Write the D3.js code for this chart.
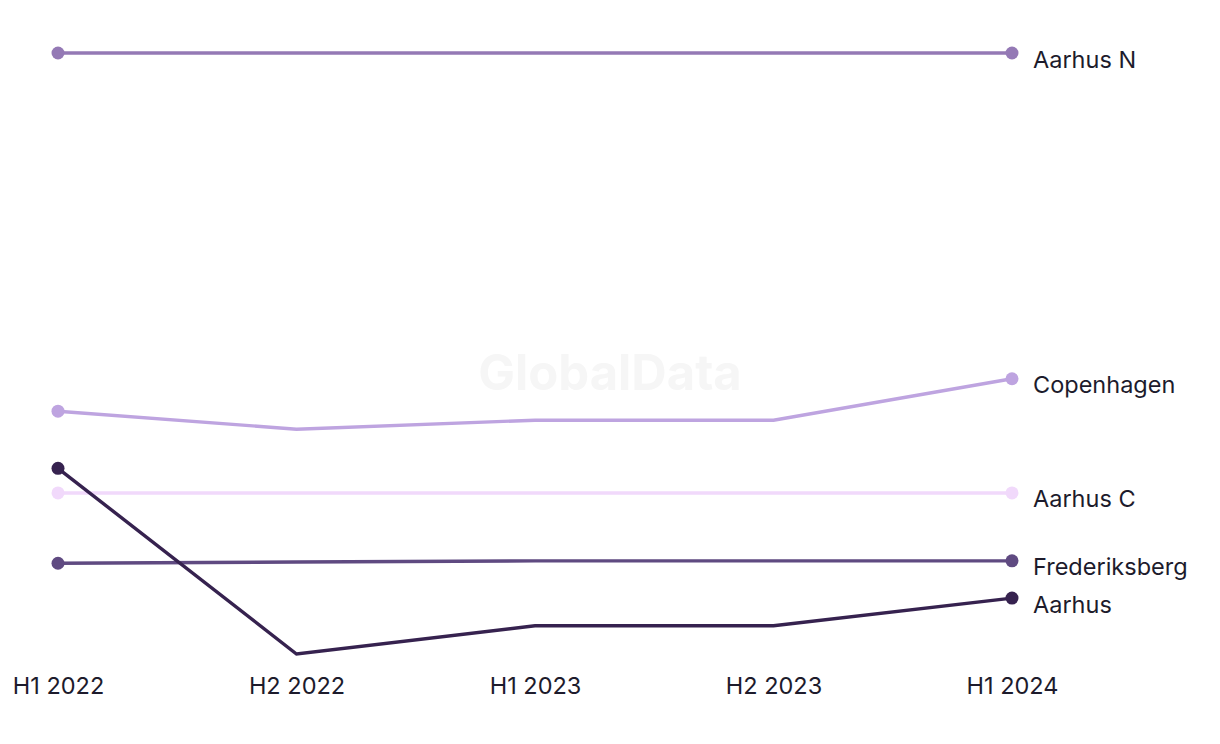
<!DOCTYPE html>
<html>
<head>
<meta charset="utf-8">
<script src="https://cdn.jsdelivr.net/npm/d3@7"></script>
<style>
  html, body { margin: 0; padding: 0; background: #fff; }
  svg { display: block; }
  text { font-family: Inter, "Noto Sans", sans-serif; }
</style>
</head>
<body>
<svg id="chart" width="1220" height="744"></svg>
<script>
const periods = ["H1 2022", "H2 2022", "H1 2023", "H2 2023", "H1 2024"];
const seriesNames = ["Aarhus N", "Copenhagen", "Aarhus C", "Frederiksberg", "Aarhus"];
const aarhusN = [100, 100, 100, 100, 100];
const copenhagen = [40.4, 37.4, 38.9, 38.9, 45.8];
const aarhusC = [26.8, 26.8, 26.8, 26.8, 26.8];
const frederiksberg = [15.1, 15.3, 15.5, 15.5, 15.5];
const aarhus = [30.9, 0, 4.7, 4.7, 9.3];
const colors = ["#9479b5", "#bea4e0", "#f1d9fb", "#5f4a81", "#36224f"];

const seriesValues = [aarhusN, copenhagen, aarhusC, frederiksberg, aarhus];
const series = seriesNames.map((n, i) => ({ name: n, values: seriesValues[i], color: colors[i] }));

const svg = d3.select("#chart");
const x = d3.scalePoint().domain(periods).range([58, 1012]);
const y = d3.scaleLinear().domain([0, 100]).range([654, 53]);

const FS = 23.5;

// watermark
svg.append("text")
  .attr("x", 610).attr("y", 390)
  .attr("text-anchor", "middle")
  .attr("font-size", 49).attr("font-weight", 700)
  .attr("fill", "#f6f6f6")
  .text("GlobalData");

// x axis
const xAxis = d3.axisBottom(x).tickSize(0).tickPadding(0);
const gx = svg.append("g").attr("transform", "translate(0,677)").call(xAxis);
gx.select(".domain").remove();
gx.selectAll("text")
  .attr("font-size", FS)
  .attr("fill", "#1d1b2c")
  .attr("font-family", "Inter, 'Noto Sans', sans-serif");

const line = d3.line().x((d, i) => x(periods[i])).y(d => y(d));

const drawOrder = [2, 1, 0, 3, 4];
drawOrder.forEach(i => {
  const s = series[i];
  const g = svg.append("g");
  g.append("path")
    .attr("d", line(s.values))
    .attr("fill", "none")
    .attr("stroke", s.color)
    .attr("stroke-width", 3.4);
  g.append("circle")
    .attr("cx", x(periods[0])).attr("cy", y(s.values[0]))
    .attr("r", 6.5).attr("fill", s.color);
  g.append("circle")
    .attr("cx", x(periods[periods.length - 1])).attr("cy", y(s.values[s.values.length - 1]))
    .attr("r", 6.5).attr("fill", s.color);
  g.append("text")
    .attr("x", 1033)
    .attr("y", y(s.values[s.values.length - 1]) + 14.5)
    .attr("font-size", FS)
    .attr("fill", "#1d1b2c")
    .text(s.name);
});
</script>
</body>
</html>
